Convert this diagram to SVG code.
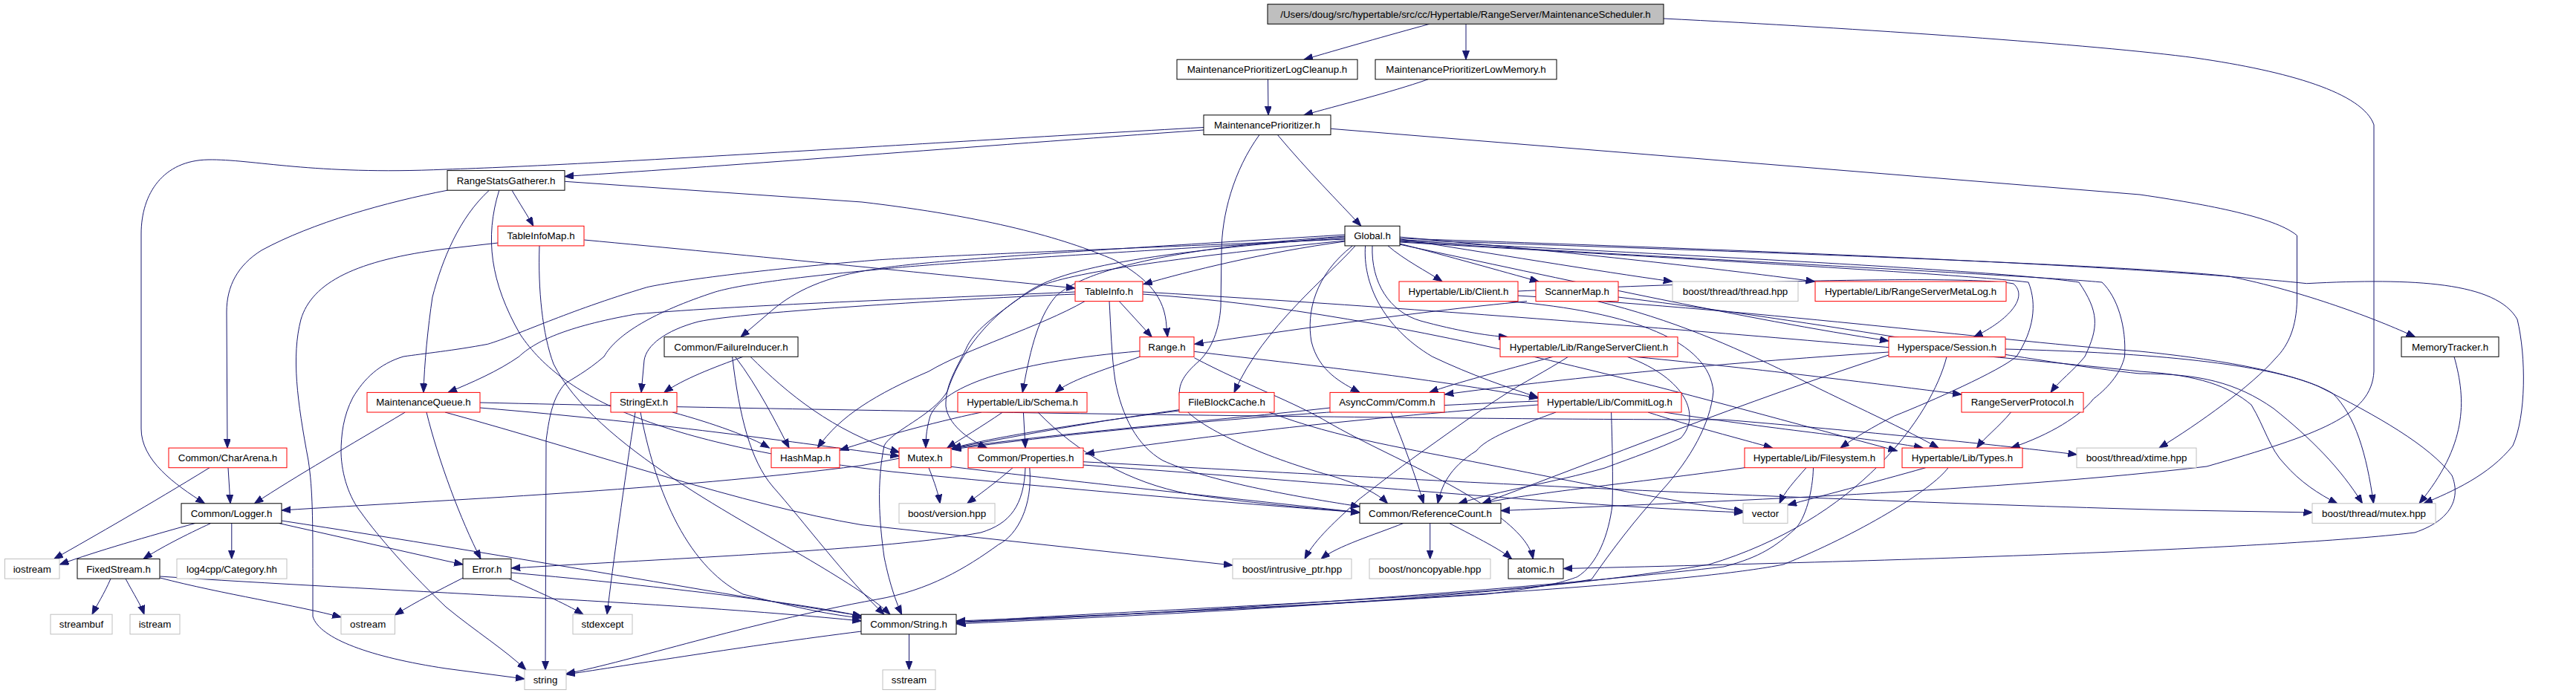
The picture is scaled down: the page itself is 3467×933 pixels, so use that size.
<svg xmlns="http://www.w3.org/2000/svg" width="3467" height="933" viewBox="0 0 3467 933">
<style>
.n rect{fill:#ffffff;stroke-width:1}
.b rect{stroke:#000000}
.r rect{stroke:#ff0000}
.g rect{stroke:#bfbfbf}
.root rect{fill:#bfbfbf;stroke:#000000}
.n text{font-family:"Liberation Sans",Arial,Helvetica,sans-serif;font-size:13.33px;fill:#000000;text-anchor:middle}
#edges path{fill:none;stroke:#191970;stroke-width:1;marker-end:url(#ah)}
</style>
<defs>
<marker id="ah" markerUnits="userSpaceOnUse" markerWidth="13" markerHeight="10" refX="12" refY="4.5" orient="auto">
<path d="M0,0 L12,4.5 L0,9 z" fill="#191970" stroke="#191970" stroke-width="1"/>
</marker>
</defs>
<rect width="3467" height="933" fill="#ffffff"/>
<g id="edges">
<path d="M1924,32.3 C1870,47 1800,67 1755,80.2"/>
<path d="M1973,32.3 L1973,80.2"/>
<path d="M2239,25 C2500,38 2820,60 2955,78 C3080,96 3180,125 3195,168 L3195,500 C3192,560 3120,585 2970,628 C2700,660 2300,676 2020,687.5"/>
<path d="M1706.5,106.8 L1707,154.9"/>
<path d="M1922,106.8 C1870,125 1800,142 1755,154.9"/>
<path d="M1620,175 C1300,198 1000,222 760,237.5"/>
<path d="M1620,171.5 C1250,192 800,222 600,228 C420,236 340,214 280,215 C220,216 190,260 190,315 L190,577 C190,620 235,652 275.5,677.8"/>
<path d="M1719.4,181.5 C1760,230 1800,270 1831.8,304.3"/>
<path d="M1695,181.5 C1660,230 1644,290 1644,340 L1643,413 C1641,445 1630,470 1615,485 C1592,505 1582,520 1590,545 C1610,575 1700,615 1790,640 C1830,652 1855,665 1867.5,677.8"/>
<path d="M1791.3,173.3 L2880,262 C2990,278 3065,295 3091.5,317 L3091.5,403 C3091,440 3080,465 3063,482 C3030,520 2960,570 2906,603.1"/>
<path d="M689,256.2 C700,275 710,290 717.8,304.3"/>
<path d="M760.2,244.3 L1160,272 C1330,292 1430,320 1500,350 C1545,375 1568,400 1570,440 L1571.4,453.7"/>
<path d="M602.2,256.2 C520,272 420,300 352,337 C320,357 305,385 305,420 L306,603.1"/>
<path d="M658.4,256.2 C618,293 595,350 582,400 C576,440 571,490 570,528.4"/>
<path d="M671.8,256.2 C652,320 660,380 700,450 C760,540 900,600 1200,635 C1500,665 1700,680 1830,690"/>
<path d="M786.3,323 C1000,343 1300,373 1447,388"/>
<path d="M670.3,327 L600,335 C480,350 420,380 405,430 C392,480 400,540 415,620 C421,660 421,700 421,780 L421,830 C430,860 500,885 600,900 L706,914"/>
<path d="M726,331 C724,390 730,450 745,490 C800,600 1000,700 1100,760 C1150,790 1180,810 1198,827.2"/>
<path d="M1506.3,405.6 L1550.3,453.7"/>
<path d="M1447,393 C1300,400 1000,410 855.5,423 C760,440 720,460 698.6,480 C670,500 635,515 603,528.4"/>
<path d="M1447,396 C1300,402 1000,420 940,433 C895,445 870,465 867,485 L863,528.4"/>
<path d="M1493,405.6 C1495,440 1496,480 1501,513 C1510,560 1530,600 1565,620 C1620,645 1720,665 1830,682"/>
<path d="M1538,396 C1900,420 2300,540 2553.4,607"/>
<path d="M1538,393 C2000,420 2600,470 2880,500 C2960,505 3000,520 3030,545 C3048,575 3055,605 3075,625 C3095,648 3120,665 3145.8,677.8"/>
<path d="M2043,398 C2400,420 2700,460 2880,473 C3000,485 3100,505 3140,530 C3170,560 3185,610 3194.5,677.8"/>
<path d="M2178,400 C2500,440 2750,490 2880,503 C2960,503 3010,515 3060,550 C3110,590 3150,630 3179.5,677.8"/>
<path d="M1810.4,325 C1700,340 1600,365 1538.8,382.7"/>
<path d="M1868,330.9 C1890,350 1920,365 1941,379"/>
<path d="M1883.5,328 C1950,345 2020,365 2071,379"/>
<path d="M1883.5,321.7 C2000,340 2150,365 2250.8,379"/>
<path d="M1883.5,319 C2100,338 2300,360 2442.5,379"/>
<path d="M1883.5,329 C2100,375 2350,430 2542,459"/>
<path d="M1847,330.9 C1845,380 1870,420 1912,432 C1960,445 2000,452 2029,453.7"/>
<path d="M1883.5,323 C2400,340 2880,358 3000,372 C3100,392 3200,430 3250.6,453.7"/>
<path d="M1883.5,321 C2400,338 2880,358 3104.6,381.7 C3250,374 3360,380 3388,430 C3400,480 3400,560 3382,600 C3350,640 3300,662 3262,677.8"/>
<path d="M1810.4,316 C1500,335 1250,350 1180,362 C1110,372 1070,392 1040,417 L997,453.7"/>
<path d="M1824,330.9 C1790,370 1700,440 1661,528.4"/>
<path d="M1820.4,330.9 C1770,370 1758,420 1765,460 C1775,500 1805,515 1830,528.4"/>
<path d="M1837.6,330.9 C1834,380 1860,440 1927.5,480 C1980,505 2030,522 2070,535"/>
<path d="M1810.4,318 C1550,335 1450,370 1420,400 C1395,430 1385,480 1376.2,528.4"/>
<path d="M1810.4,319 C1550,340 1420,360 1374,400 C1340,425 1310,445 1300,470 C1285,500 1272,520 1273,547 C1276,570 1300,590 1328.4,603.1"/>
<path d="M1810.4,321 C1500,340 1250,355 1180,363 C1050,375 990,385 962.7,393 C880,420 830,450 813,480 C790,500 770,510 760,517 C745,535 740,555 735,593 L734,901.9"/>
<path d="M1810.4,322 C1500,335 1250,345 1180,350 C1000,365 900,380 870.8,386.7 C760,420 700,450 656.5,463.3 C610,472 570,476 543,480 C510,490 490,510 475,535 C462,560 459,585 459,610 C460,640 470,670 486,690 C500,710 540,760 600,817 C640,850 680,875 708,901.9"/>
<path d="M1810.4,324 C1600,345 1450,365 1400,385 C1330,420 1290,480 1275,527 C1255,560 1200,580 1190,600 C1180,650 1183,700 1190,750 C1198,790 1208,815 1213.6,827.2"/>
<path d="M1883.5,324 C2300,345 2700,365 2798,380 C2825,420 2825,440 2806,480 C2790,500 2772,512 2760,528.4"/>
<path d="M1883.5,326 C2300,350 2650,370 2730,380 C2742,410 2737,445 2714,480 C2690,500 2600,540 2549.6,560 C2520,575 2495,590 2477,603.1"/>
<path d="M1883.5,325 C2300,350 2750,372 2829,380 C2850,400 2862,440 2859.5,480 C2855,500 2840,520 2817.5,537 C2800,560 2760,585 2706.5,603.1"/>
<path d="M1534.2,480.3 C1480,500 1440,512 1420.2,528.4"/>
<path d="M1607.3,473.3 C1700,485 1900,505 2070,536"/>
<path d="M1607.3,481.7 C1680,520 1740,540 1790,570 C1860,610 1960,650 2010,690 C2045,715 2060,735 2063.4,752.5"/>
<path d="M1534,472.7 C1450,480 1390,490 1340,505 C1290,520 1260,540 1252,560 C1246,580 1246,595 1246,603.1"/>
<path d="M2055,405.6 C1900,420 1700,450 1607.7,463.3"/>
<path d="M2043,392 C2300,380 2650,370 2710,382 C2730,400 2705,430 2656.7,453.7"/>
<path d="M2030,405.6 C2200,420 2300,460 2306,527 C2302,570 2276,617 2237,660 C2200,700 2170,740 2142,780 C2000,805 1500,822 1287.4,838"/>
<path d="M2090,480.3 C2020,500 1960,515 1923.7,528.4"/>
<path d="M2200,480.3 C2400,500 2550,520 2640,531"/>
<path d="M2110.6,480.3 C2080,500 2050,515 2027,530 C1980,560 1940,590 1907,613 C1870,640 1845,660 1828,673 C1800,700 1770,725 1756,752.5"/>
<path d="M2190,480.3 C2270,510 2290,560 2262,590 C2230,605 2200,615 2160,630 C2090,650 2020,660 1963,677.8"/>
<path d="M2542,474 C2300,490 2100,510 1944.3,531"/>
<path d="M2542,478 C2350,540 2150,620 1995,677.8"/>
<path d="M2620,480.3 C2600,560 2500,700 2300,760 C2000,810 1500,830 1287.4,840"/>
<path d="M2699,470 C2900,475 3050,490 3120,520 C3200,560 3270,600 3300,640 C3312,670 3300,700 3250,717 C3100,735 2700,752 2104.3,765.5"/>
<path d="M2218,555 C2280,575 2340,590 2385.6,603.1"/>
<path d="M2240,555 C2400,580 2520,590 2588,603.1"/>
<path d="M2094,555 C2040,575 2000,590 1987,607 C1950,630 1940,655 1935,677.8"/>
<path d="M2168.6,555 C2170,600 2171,640 2170,680 C2165,720 2150,760 2122.7,776.7 C2100,785 2080,790 2000,800 C1700,820 1400,832 1287.4,836"/>
<path d="M2070,545 C1800,565 1600,590 1460.9,611"/>
<path d="M2070,540 C1800,550 1500,575 1281.5,605"/>
<path d="M2706.5,555 C2690,575 2670,590 2660.6,603.1"/>
<path d="M2431,629.7 C2415,648 2402,662 2395,677.8"/>
<path d="M2440.5,629.7 C2440,660 2430,700 2415,713 C2390,735 2370,750 2320,763 C2000,800 1500,830 1287.4,838"/>
<path d="M2348,629.7 C2200,650 2050,665 1995,677.8"/>
<path d="M2591.7,629.7 C2520,650 2450,668 2406,680"/>
<path d="M2622,629.7 C2600,660 2500,720 2400,760 C2300,780 2000,805 1287.4,838"/>
<path d="M2150,405.6 C2250,430 2330,465 2408,503 C2480,540 2550,570 2609,603.1"/>
<path d="M1872,555 C1890,600 1905,640 1916,677.8"/>
<path d="M1790.5,549 C1650,565 1400,585 1281.5,604"/>
<path d="M1377.4,555 L1380,603.1"/>
<path d="M1349.4,555 C1320,575 1295,590 1274.8,603.1"/>
<path d="M1321,555 C1250,570 1180,590 1130.3,606"/>
<path d="M1397,555 C1450,610 1520,650 1600,665 C1700,680 1780,685 1830,690"/>
<path d="M1587,551.7 C1450,570 1300,600 1160,626.7 C900,660 600,673 379.2,687"/>
<path d="M1587.4,553 C1450,570 1330,590 1281.5,603.5"/>
<path d="M1708,555 C1800,590 1900,605 2000,625 C2150,655 2280,680 2346,688"/>
<path d="M545.3,555 C470,600 400,640 342.5,677.8"/>
<path d="M574,555 C590,620 620,700 647,752.5"/>
<path d="M646,549 C900,570 1100,600 1210.5,614"/>
<path d="M646,542 C1200,555 2000,565 2320,565 C2500,580 2700,600 2795.3,612"/>
<path d="M599,555 C800,610 1000,680 1160,706.7 L1659,761"/>
<path d="M1000,480.3 C960,495 920,510 893.8,528.4"/>
<path d="M989.5,480.3 C1020,520 1045,570 1062,603.1"/>
<path d="M1010,480.3 C1060,530 1120,580 1210.5,609"/>
<path d="M985.6,480.3 C995,560 1010,620 1040,655 C1080,700 1140,780 1190,827.2"/>
<path d="M1460,405.6 C1400,440 1300,470 1250,500 C1180,530 1130,560 1100.4,603.1"/>
<path d="M905,555 C960,570 1010,588 1035.4,603.1"/>
<path d="M855,555 C840,650 825,760 817,827.2"/>
<path d="M862,555 C880,650 920,760 1000,800 C1080,820 1120,828 1159.3,832"/>
<path d="M307,629.7 L310,677.8"/>
<path d="M282,629.7 C200,680 130,720 72.7,752.5"/>
<path d="M263,704.4 C200,722 130,742 80.4,760"/>
<path d="M284,704.4 C250,720 215,738 193,752.5"/>
<path d="M311.8,704.4 L311.8,752.5"/>
<path d="M375,704.4 L600,755 L623.2,760"/>
<path d="M378.8,701 C700,750 1000,805 1159.3,829"/>
<path d="M1250,629.7 C1258,650 1263,665 1265.2,677.8"/>
<path d="M1280,628.3 C1500,655 1700,675 1830,690"/>
<path d="M1457.7,621.7 C1800,640 2320,670 2920,686.7 L3112.5,690"/>
<path d="M1363,629.7 C1340,650 1315,668 1301.6,677.8"/>
<path d="M1380,629.7 C1378,680 1360,705 1320,717 C1200,740 900,752 688.3,765"/>
<path d="M1385.8,629.7 C1390,680 1370,720 1343.7,733.3 C1300,765 1250,795 1180,807 C1000,840 850,890 762,907"/>
<path d="M1457.7,626 C1800,650 2100,680 2346,690"/>
<path d="M1889,704.4 C1850,720 1800,735 1778,752.5"/>
<path d="M1924.7,704.4 L1924.7,752.5"/>
<path d="M1950.5,704.4 C1990,725 2020,740 2034.7,752.5"/>
<path d="M623.2,778 C590,795 560,810 531.5,828"/>
<path d="M685,779.1 C720,795 760,812 785,827.2"/>
<path d="M688.3,771 C900,790 1100,815 1159.3,830"/>
<path d="M149,779.1 C140,800 130,815 124,827.2"/>
<path d="M169,779.1 C180,800 190,815 194,827.2"/>
<path d="M215.4,778 C300,800 400,815 459.2,831"/>
<path d="M215.4,776 C500,795 900,810 1159.3,836"/>
<path d="M1223.5,853.8 L1223.5,901.9"/>
<path d="M1159.3,850 C1000,870 850,895 762,908"/>
<path d="M3303,480.3 C3320,540 3320,600 3256,677.8"/>
</g>
<g id="n_root" class="n root"><rect x="1706" y="5.7" width="533" height="26.6"/><text x="1972.5" y="23.5">/Users/doug/src/hypertable/src/cc/Hypertable/RangeServer/MaintenanceScheduler.h</text></g>
<g id="n_logc" class="n b"><rect x="1584" y="80.2" width="243" height="26.6"/><text x="1705.5" y="98.2">MaintenancePrioritizerLogCleanup.h</text></g>
<g id="n_lowm" class="n b"><rect x="1851" y="80.2" width="244" height="26.6"/><text x="1973" y="98.2">MaintenancePrioritizerLowMemory.h</text></g>
<g id="n_mp" class="n b"><rect x="1620" y="154.9" width="171" height="26.6"/><text x="1705.5" y="172.9">MaintenancePrioritizer.h</text></g>
<g id="n_rsg" class="n b"><rect x="602" y="229.6" width="158" height="26.6"/><text x="681" y="247.6">RangeStatsGatherer.h</text></g>
<g id="n_global" class="n b"><rect x="1810" y="304.3" width="74" height="26.6"/><text x="1847" y="322.3">Global.h</text></g>
<g id="n_tim" class="n r"><rect x="670" y="304.3" width="116" height="26.6"/><text x="728" y="322.3">TableInfoMap.h</text></g>
<g id="n_ti" class="n r"><rect x="1447" y="379" width="91" height="26.6"/><text x="1492.5" y="397">TableInfo.h</text></g>
<g id="n_client" class="n r"><rect x="1883" y="379" width="160" height="26.6"/><text x="1963" y="397">Hypertable/Lib/Client.h</text></g>
<g id="n_scanmap" class="n r"><rect x="2067" y="379" width="111" height="26.6"/><text x="2122.5" y="397">ScannerMap.h</text></g>
<g id="n_thread" class="n g"><rect x="2251" y="379" width="169" height="26.6"/><text x="2335.5" y="397">boost/thread/thread.hpp</text></g>
<g id="n_rsml" class="n r"><rect x="2443" y="379" width="257" height="26.6"/><text x="2571.5" y="397">Hypertable/Lib/RangeServerMetaLog.h</text></g>
<g id="n_fi" class="n b"><rect x="894" y="453.7" width="180" height="26.6"/><text x="984" y="471.7">Common/FailureInducer.h</text></g>
<g id="n_range" class="n r"><rect x="1534" y="453.7" width="73" height="26.6"/><text x="1570.5" y="471.7">Range.h</text></g>
<g id="n_rsc" class="n r"><rect x="2019" y="453.7" width="239" height="26.6"/><text x="2138.5" y="471.7">Hypertable/Lib/RangeServerClient.h</text></g>
<g id="n_session" class="n r"><rect x="2542" y="453.7" width="157" height="26.6"/><text x="2620.5" y="471.7">Hyperspace/Session.h</text></g>
<g id="n_memtr" class="n b"><rect x="3232" y="453.7" width="131" height="26.6"/><text x="3297.5" y="471.7">MemoryTracker.h</text></g>
<g id="n_mq" class="n r"><rect x="494" y="528.4" width="152" height="26.6"/><text x="570" y="546.4">MaintenanceQueue.h</text></g>
<g id="n_strext" class="n r"><rect x="822" y="528.4" width="89" height="26.6"/><text x="866.5" y="546.4">StringExt.h</text></g>
<g id="n_schema" class="n r"><rect x="1289" y="528.4" width="174" height="26.6"/><text x="1376" y="546.4">Hypertable/Lib/Schema.h</text></g>
<g id="n_fbc" class="n r"><rect x="1587" y="528.4" width="128" height="26.6"/><text x="1651" y="546.4">FileBlockCache.h</text></g>
<g id="n_comm" class="n r"><rect x="1790" y="528.4" width="154" height="26.6"/><text x="1867" y="546.4">AsyncComm/Comm.h</text></g>
<g id="n_commitlog" class="n r"><rect x="2070" y="528.4" width="193" height="26.6"/><text x="2166.5" y="546.4">Hypertable/Lib/CommitLog.h</text></g>
<g id="n_rsp" class="n r"><rect x="2640" y="528.4" width="164" height="26.6"/><text x="2722" y="546.4">RangeServerProtocol.h</text></g>
<g id="n_chararena" class="n r"><rect x="227" y="603.1" width="159" height="26.6"/><text x="306.5" y="621.1">Common/CharArena.h</text></g>
<g id="n_hashmap" class="n r"><rect x="1038" y="603.1" width="92" height="26.6"/><text x="1084" y="621.1">HashMap.h</text></g>
<g id="n_mutex" class="n r"><rect x="1210" y="603.1" width="70" height="26.6"/><text x="1245" y="621.1">Mutex.h</text></g>
<g id="n_props" class="n r"><rect x="1303" y="603.1" width="155" height="26.6"/><text x="1380.5" y="621.1">Common/Properties.h</text></g>
<g id="n_fs" class="n r"><rect x="2348" y="603.1" width="188" height="26.6"/><text x="2442" y="621.1">Hypertable/Lib/Filesystem.h</text></g>
<g id="n_types" class="n r"><rect x="2560" y="603.1" width="162" height="26.6"/><text x="2641" y="621.1">Hypertable/Lib/Types.h</text></g>
<g id="n_xtime" class="n g"><rect x="2795" y="603.1" width="161" height="26.6"/><text x="2875.5" y="621.1">boost/thread/xtime.hpp</text></g>
<g id="n_logger" class="n b"><rect x="244" y="677.8" width="135" height="26.6"/><text x="311.5" y="695.8">Common/Logger.h</text></g>
<g id="n_version" class="n g"><rect x="1210" y="677.8" width="129" height="26.6"/><text x="1274.5" y="695.8">boost/version.hpp</text></g>
<g id="n_refcount" class="n b"><rect x="1830" y="677.8" width="190" height="26.6"/><text x="1925" y="695.8">Common/ReferenceCount.h</text></g>
<g id="n_vector" class="n g"><rect x="2346" y="677.8" width="60" height="26.6"/><text x="2376" y="695.8">vector</text></g>
<g id="n_bmutex" class="n g"><rect x="3112" y="677.8" width="166" height="26.6"/><text x="3195" y="695.8">boost/thread/mutex.hpp</text></g>
<g id="n_iostream" class="n g"><rect x="6.5" y="752.5" width="73.5" height="26.6"/><text x="43.2" y="770.5">iostream</text></g>
<g id="n_fixedstream" class="n b"><rect x="104" y="752.5" width="111" height="26.6"/><text x="159.5" y="770.5">FixedStream.h</text></g>
<g id="n_log4cpp" class="n g"><rect x="238" y="752.5" width="148" height="26.6"/><text x="312" y="770.5">log4cpp/Category.hh</text></g>
<g id="n_error" class="n b"><rect x="623" y="752.5" width="65" height="26.6"/><text x="655.5" y="770.5">Error.h</text></g>
<g id="n_intrusive" class="n g"><rect x="1659" y="752.5" width="160" height="26.6"/><text x="1739" y="770.5">boost/intrusive_ptr.hpp</text></g>
<g id="n_noncopy" class="n g"><rect x="1843" y="752.5" width="163" height="26.6"/><text x="1924.5" y="770.5">boost/noncopyable.hpp</text></g>
<g id="n_atomic" class="n b"><rect x="2030" y="752.5" width="74" height="26.6"/><text x="2067" y="770.5">atomic.h</text></g>
<g id="n_streambuf" class="n g"><rect x="68" y="827.2" width="83" height="26.6"/><text x="109.5" y="845.2">streambuf</text></g>
<g id="n_istream" class="n g"><rect x="175" y="827.2" width="67" height="26.6"/><text x="208.5" y="845.2">istream</text></g>
<g id="n_ostream" class="n g"><rect x="459" y="827.2" width="72.5" height="26.6"/><text x="495.2" y="845.2">ostream</text></g>
<g id="n_stdexcept" class="n g"><rect x="771" y="827.2" width="80" height="26.6"/><text x="811" y="845.2">stdexcept</text></g>
<g id="n_stringh" class="n b"><rect x="1159" y="827.2" width="128" height="26.6"/><text x="1223" y="845.2">Common/String.h</text></g>
<g id="n_sstream" class="n g"><rect x="1188" y="901.9" width="71" height="26.6"/><text x="1223.5" y="919.9">sstream</text></g>
<g id="n_string" class="n g"><rect x="706" y="901.9" width="56" height="26.6"/><text x="734" y="919.9">string</text></g>
</svg>
